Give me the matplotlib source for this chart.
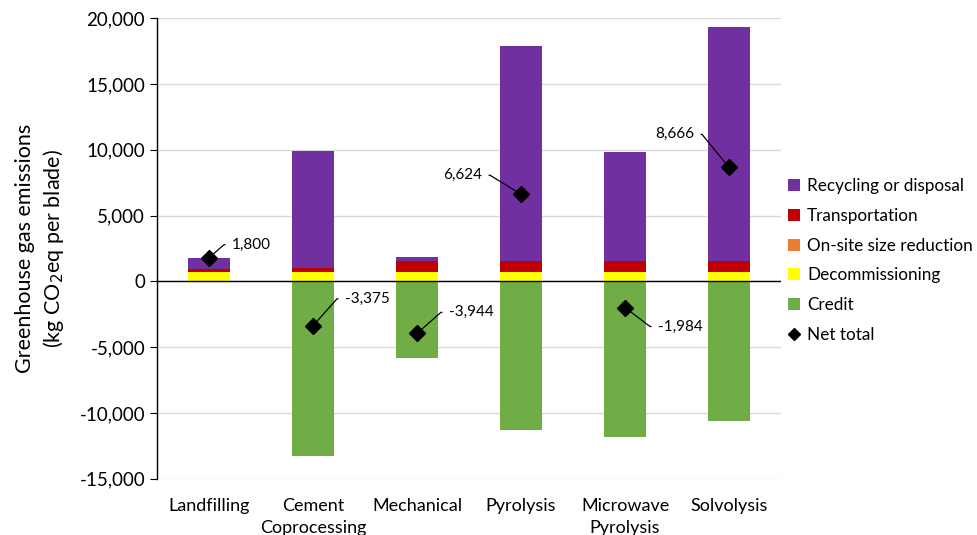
import matplotlib.pyplot as plt
from matplotlib.lines import Line2D
import numpy as np

plt.rcParams['font.family'] = ['Lato', 'DejaVu Sans']

categories = ['Landfilling', 'Cement\nCoprocessing', 'Mechanical', 'Pyrolysis',
              'Microwave\nPyrolysis', 'Solvolysis']
decommissioning = [680, 680, 680, 680, 680, 680]
size_reduction = [60, 60, 60, 60, 60, 60]
transportation = [200, 300, 800, 810, 810, 810]
recycling = [860, 8860, 340, 16370, 8290, 17750]
credit = [0, -13275, -5824, -11296, -11824, -10634]
net_total = [1800, -3375, -3944, 6624, -1984, 8666]
net_labels = ['1,800', '-3,375', '-3,944', '6,624', '-1,984', '8,666']
# label offsets (pixels) from marker: near edge of text, vertical centre
offsets = [(23, 13), (32, 27), (32, 21), (-39, 19), (33, -19), (-35, 33)]

c_purple = '#7030A0'
c_red = '#C00000'
c_orange = '#ED7D31'
c_yellow = '#FFFF00'
c_green = '#70AD47'

fig = plt.figure(figsize=(9.77, 5.35), dpi=100)
ax = fig.add_axes([0.1607, 0.105, 0.6387, 0.861])

x = np.arange(len(categories))
w = 0.4
bottom = np.zeros(len(categories))
series = [(decommissioning, c_yellow, 'Decommissioning'),
          (size_reduction, c_orange, 'On-site size reduction'),
          (transportation, c_red, 'Transportation'),
          (recycling, c_purple, 'Recycling or disposal')]
handles = {}
for vals, col, lab in series:
    handles[lab] = ax.bar(x, vals, w, bottom=bottom, color=col, label=lab, zorder=2)
    bottom = bottom + np.array(vals)
handles['Credit'] = ax.bar(x, credit, w, color=c_green, label='Credit', zorder=2)
ax.plot(x, net_total, linestyle='none', marker='D', markersize=8,
        color='black', zorder=4)
handles['Net total'] = Line2D([], [], linestyle='none', marker='D', markersize=6, color='black')

# leader lines: short horizontal bit at the label, then diagonal to the marker
for i in range(len(categories)):
    dx, dy = offsets[i]
    if dx > 0:
        ha, rel, cx = 'left', (0, 0.5), dx - 8
    else:
        ha, rel, cx = 'right', (1, 0.5), dx + 8
    ang = np.degrees(np.arctan2(dy, cx))
    ax.annotate(net_labels[i], xy=(x[i], net_total[i]), xytext=(dx, dy),
                textcoords='offset pixels', ha=ha, va='center', fontsize=11,
                arrowprops=dict(arrowstyle='-', color='black', lw=0.9, relpos=rel,
                                shrinkA=3, shrinkB=4,
                                connectionstyle='angle,angleA=0,angleB=%.1f,rad=0' % ang),
                zorder=5)

ax.axhline(0, color='black', lw=1, zorder=3)
ax.set_xlim(-0.5, 5.5)
ax.set_ylim(-15000, 20000)
ax.set_yticks(np.arange(-15000, 20001, 5000))
ax.set_yticklabels(['{:,}'.format(v) for v in range(-15000, 20001, 5000)], fontsize=13.5)
ax.set_xticks(x)
ax.set_xticklabels(categories, fontsize=13, linespacing=1.45)
ax.tick_params(axis='x', length=0, pad=14)
ax.tick_params(axis='y', length=5, direction='out')
ax.grid(axis='y', color='#d9d9d9', lw=1, zorder=0)
for s in ['top', 'right', 'bottom']:
    ax.spines[s].set_visible(False)
ax.spines['left'].set_linewidth(1)
ax.set_ylabel('Greenhouse gas emissions\n(kg CO$_2$eq per blade)', fontsize=15.5,
              linespacing=1.3, labelpad=10)

order = ['Recycling or disposal', 'Transportation', 'On-site size reduction',
         'Decommissioning', 'Credit', 'Net total']
fig.legend([handles[k] for k in order], order, loc='center left',
           bbox_to_anchor=(0.8, 0.513), frameon=False, fontsize=12.3,
           handlelength=0.7, handleheight=0.7, handletextpad=0.4, labelspacing=0.8,
           borderaxespad=0)

plt.savefig('out.png', dpi=100)
